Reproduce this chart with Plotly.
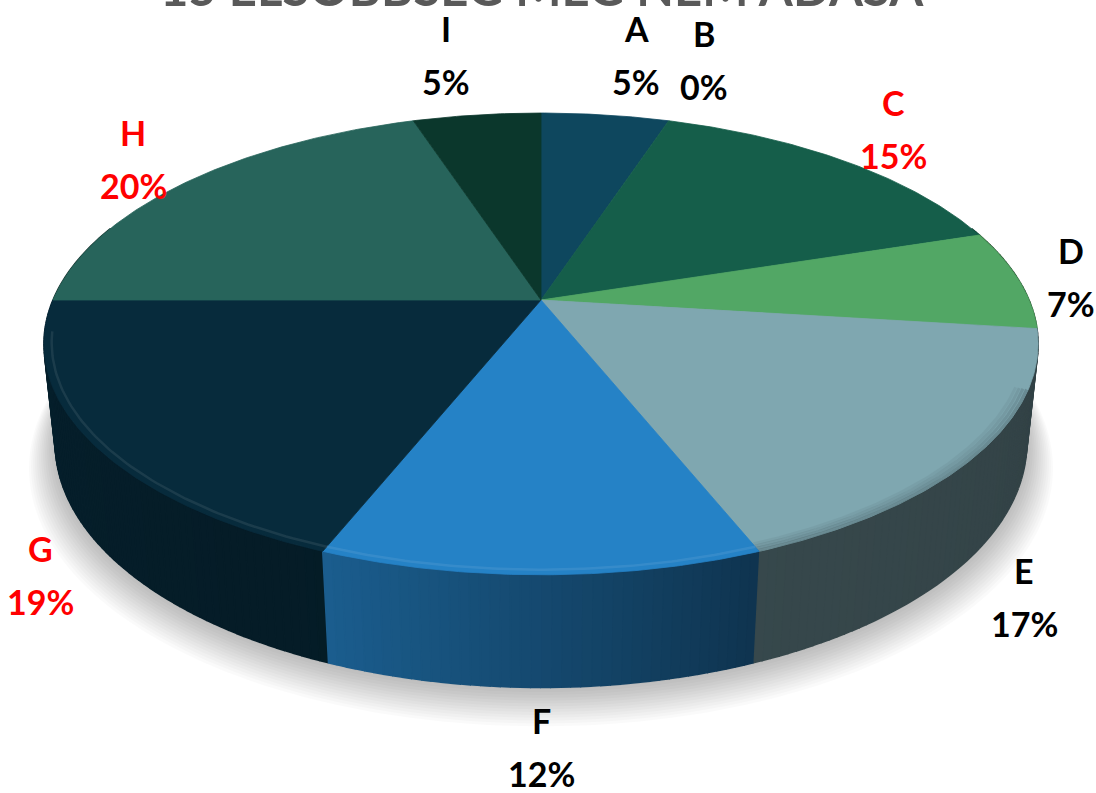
import numpy as np
import plotly.graph_objects as go

# ---- data -------------------------------------------------------------
categories = ["A", "B", "C", "D", "E", "F", "G", "H", "I"]
shares = [5, 0, 15, 7, 17, 12, 19, 20, 5]          # percent
top_colors = ["#0e475e", "#1b6b5c", "#155e4a", "#52a765", "#7fa7b0",
              "#2582c6", "#072b3c", "#27645b", "#0b372c"]
label_colors = ["#000000", "#000000", "#ff0000", "#000000", "#000000",
                "#000000", "#ff0000", "#ff0000", "#000000"]
title_text = "15 ELSŐBBSÉG MEG NEM ADÁSA"

# label anchor positions (letter line, percent line follows below)
label_pos = {
    "A": (636, 28), "B": (704, 33), "C": (893, 102), "D": (1071, 250),
    "E": (1024, 570), "F": (541, 720), "G": (40, 548), "H": (133, 132),
    "I": (446, 28),
}
LINE_GAP = 53

# ---- 3D tilted-disc projection ----------------------------------------
W, Hpx = 1096, 793
CX, CY = 541.0, 300.0      # projected pie centre
K = 488.0                  # horizontal scale
SIN_T, COS_T = 0.456, 0.890   # tilt of the disc
DIST = 4.68                # camera distance (perspective)
THICK = 0.23               # pie thickness (radius units)


def project(theta_deg, r, z):
    th = np.radians(theta_deg)
    x = r * np.sin(th)
    y = r * np.cos(th)
    v = y * SIN_T + z * COS_T
    w = -y * COS_T + z * SIN_T
    s = DIST / (DIST - w)
    return CX + K * s * x, CY - K * s * v


def hex_rgb(h):
    h = h.lstrip("#")
    return tuple(int(h[i:i + 2], 16) for i in (0, 2, 4))


def shade(h, f):
    r, g, b = hex_rgb(h)
    return "rgb(%d,%d,%d)" % (round(r * f), round(g * f), round(b * f))


def lighten(h, f):
    r, g, b = hex_rgb(h)
    return "rgb(%d,%d,%d)" % (round(r + (255 - r) * f), round(g + (255 - g) * f),
                              round(b + (255 - b) * f))


total = float(sum(shares))
bounds = np.concatenate([[0.0], np.cumsum(shares)]) / total * 360.0

# per-slice side shading, left edge -> right edge
side_shade = {"E": (0.43, 0.39), "F": (0.72, 0.40), "G": (0.74, 0.64)}

fig = go.Figure()

# soft drop shadow under the pie
ang = np.linspace(0, 360, 361)
for i in range(14):
    rr = 1.0 + 0.004 * i
    sx, sy = project(ang, rr, -THICK)
    sy = sy + 2 + 1.4 * i
    fig.add_trace(go.Scatter(x=sx, y=sy, fill="toself", mode="none",
                             fillcolor="rgba(0,0,0,0.018)", hoverinfo="skip"))

# outer wall strips (front part), painted far-to-near
strips = []
for i, cat in enumerate(categories):
    a0, a1 = bounds[i], bounds[i + 1]
    lo, hi = max(a0, 70.0), min(a1, 290.0)
    if hi <= lo:
        continue
    n = max(1, int(np.ceil((hi - lo) / 1.0)))
    edges = np.linspace(lo, hi, n + 1)
    fl, fr = side_shade.get(cat, (0.6, 0.45))
    for j in range(n):
        t0, t1 = edges[j], edges[j + 1]
        tm = 0.5 * (t0 + t1)
        # screen-left side of the slice is the larger angle
        frac = (a1 - tm) / (a1 - a0) if a1 > a0 else 0.5
        f = fl + (fr - fl) * frac
        col = shade(top_colors[i], f)
        tt = np.linspace(t0, t1, 3)
        xt, yt = project(tt, 1.0, 0.0)
        xb, yb = project(tt[::-1], 1.0, -THICK)
        strips.append((np.cos(np.radians(tm)),
                       np.concatenate([xt, xb]), np.concatenate([yt, yb]), col))

strips.sort(key=lambda s: -s[0])
for _, xs, ys, col in strips:
    fig.add_trace(go.Scatter(x=xs, y=ys, fill="toself", mode="lines",
                             line=dict(color=col, width=1.6), fillcolor=col,
                             hoverinfo="skip"))

# top faces
for i, cat in enumerate(categories):
    a0, a1 = bounds[i], bounds[i + 1]
    if a1 <= a0:
        continue
    tt = np.linspace(a0, a1, max(3, int((a1 - a0) * 2)))
    xa, ya = project(tt, 1.0, 0.0)
    xc, yc = project(0.0, 0.0, 0.0)
    xs = np.concatenate([[xc], xa, [xc]])
    ys = np.concatenate([[yc], ya, [yc]])
    fig.add_trace(go.Scatter(x=xs, y=ys, fill="toself", mode="lines",
                             line=dict(color=top_colors[i], width=0.8),
                             fillcolor=top_colors[i], hoverinfo="skip"))

# bevel along the front rim of the top face
for i, cat in enumerate(categories):
    a0, a1 = bounds[i], bounds[i + 1]
    lo, hi = max(a0, 112.0), min(a1, 262.0)
    if hi <= lo:
        continue
    tt = np.linspace(lo, hi, 80)
    if cat == "E":
        # soft dark rounding on the pale slice
        for rr, op in [(0.997, 0.30), (0.990, 0.22), (0.983, 0.14), (0.976, 0.08)]:
            xb, yb = project(tt, rr, 0.0)
            fig.add_trace(go.Scatter(x=xb, y=yb, mode="lines", opacity=op,
                                     line=dict(color="#3b4d52", width=3),
                                     hoverinfo="skip"))
    else:
        xb, yb = project(tt, 0.985, 0.0)
        fig.add_trace(go.Scatter(x=xb, y=yb, mode="lines", opacity=0.45,
                                 line=dict(color=lighten(top_colors[i], 0.18), width=2.5),
                                 hoverinfo="skip"))

# labels
annotations = []
for i, cat in enumerate(categories):
    lx, ly = label_pos[cat]
    for txt, yy in [(cat, ly), ("%d%%" % shares[i], ly + LINE_GAP)]:
        annotations.append(dict(x=lx, y=yy, xref="x", yref="y", showarrow=False,
                                text="<b>%s</b>" % txt, xanchor="center", yanchor="middle",
                                font=dict(family="Lato", size=34, color=label_colors[i])))

annotations.append(dict(x=542, y=18, xref="x", yref="y", showarrow=False,
                        text="<b>%s</b>" % title_text, xanchor="center", yanchor="bottom",
                        font=dict(family="Lato", size=49, color="#595959")))

fig.update_layout(
    width=W, height=Hpx, margin=dict(l=0, r=0, t=0, b=0),
    paper_bgcolor="white", plot_bgcolor="white", showlegend=False,
    xaxis=dict(range=[0, W], visible=False, fixedrange=True),
    yaxis=dict(range=[Hpx, 0], visible=False, fixedrange=True),
    annotations=annotations,
)

fig.write_html("out.html")
